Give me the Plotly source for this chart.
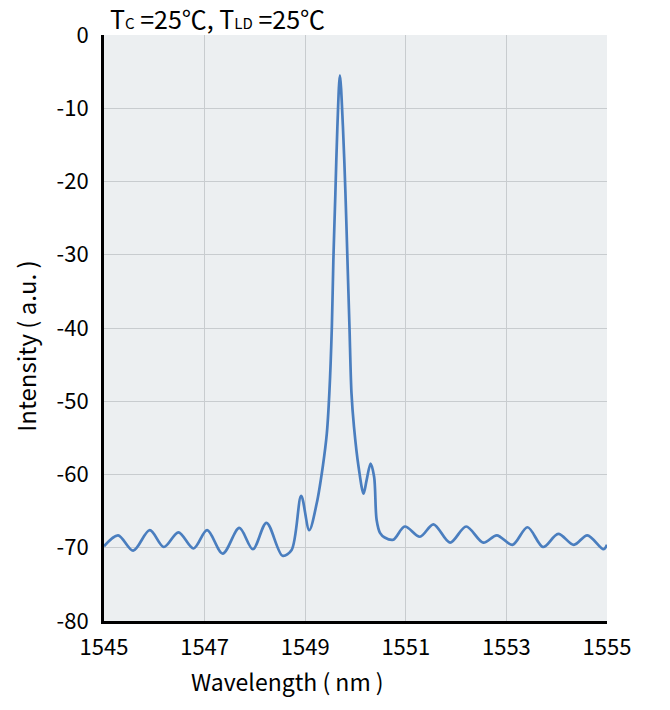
import plotly.graph_objects as go

wavelength = [1545.0, 1545.28, 1545.58, 1545.91, 1546.19, 1546.48, 1546.78, 1547.05, 1547.36,
              1547.69, 1547.96, 1548.23, 1548.55, 1548.73, 1548.92, 1549.08, 1549.23, 1549.35,
              1549.43, 1549.48, 1549.53, 1549.56, 1549.60, 1549.64, 1549.69, 1549.75, 1549.80,
              1549.84, 1549.88, 1549.92, 1549.97, 1550.06, 1550.16, 1550.22, 1550.30, 1550.37,
              1550.42, 1550.49, 1550.58, 1550.75, 1550.98, 1551.28, 1551.55, 1551.88, 1552.20,
              1552.54, 1552.81, 1553.12, 1553.42, 1553.73, 1554.03, 1554.34, 1554.61, 1554.93,
              1555.0]
intensity = [-69.8, -68.3, -70.4, -67.6, -69.9, -67.9, -70.1, -67.6, -70.8,
             -67.3, -70.2, -66.6, -71.1, -70.3, -62.9, -67.6, -63.9, -58.9,
             -54.4, -48.9, -39.8, -30.7, -21.6, -12.5, -5.5, -12.5, -21.6,
             -30.7, -39.8, -48.9, -53.5, -58.9, -62.6, -60.8, -58.5, -60.3,
             -66.2, -68.0, -68.6, -68.9, -67.1, -68.5, -66.8, -69.3, -67.1,
             -69.3, -68.3, -69.6, -67.2, -69.9, -68.1, -69.6, -68.3, -70.2,
             -69.6]

x_ticks = [1545, 1547, 1549, 1551, 1553, 1555]
y_ticks = [0, -10, -20, -30, -40, -50, -60, -70, -80]

FONT = "Noto Sans CJK JP"

fig = go.Figure()
fig.add_trace(go.Scatter(
    x=wavelength, y=intensity, mode="lines",
    line=dict(color="#4a7ebf", width=2.7, shape="spline", smoothing=0.9),
    showlegend=False,
))

fig.update_layout(
    width=670, height=710,
    margin=dict(l=104, r=63, t=35, b=89, autoexpand=False),
    paper_bgcolor="white",
    plot_bgcolor="#ECEFF1",
    font=dict(family=FONT, color="black", size=22),
    xaxis=dict(
        range=[1545, 1555], tickvals=x_ticks, ticktext=[str(v) for v in x_ticks],
        showgrid=True, gridcolor="#C8CCCF", gridwidth=1,
        showline=True, linecolor="black", linewidth=3,
        zeroline=False, ticks="", ticklabelstandoff=5, automargin=False,
        tickfont=dict(size=22, family=FONT),
    ),
    yaxis=dict(
        range=[-80, 0], tickvals=y_ticks, ticktext=[str(v) for v in y_ticks],
        showgrid=True, gridcolor="#C8CCCF", gridwidth=1,
        showline=True, linecolor="black", linewidth=3,
        zeroline=False, ticks="", ticklabelstandoff=8, automargin=False,
        tickfont=dict(size=22, family=FONT),
    ),
)

# axis titles (placed as in the reference, offset from axis centre)
fig.add_annotation(
    xref="paper", yref="paper", x=0.365, y=-0.102, xanchor="center", yanchor="middle",
    showarrow=False, text="Wavelength ( nm )", font=dict(size=23, family=FONT, color="black"),
)
fig.add_annotation(
    xref="paper", yref="paper", x=-0.155, y=0.468, xanchor="center", yanchor="middle",
    showarrow=False, textangle=-90, text="Intensity ( a.u. )",
    font=dict(size=24, family=FONT, color="black"),
)

fig.add_annotation(
    xref="paper", yref="paper", x=0.008, y=1.0, xanchor="left", yanchor="bottom",
    yshift=-3, showarrow=False,
    text="T<span style='font-size:15px'>C</span> =25℃, T<span style='font-size:15px'>LD</span> =25℃",
    font=dict(size=25, family=FONT, color="black"),
)

fig.write_html("out.html", config={"displayModeBar": False},
               post_script="document.body.style.margin='0';")
